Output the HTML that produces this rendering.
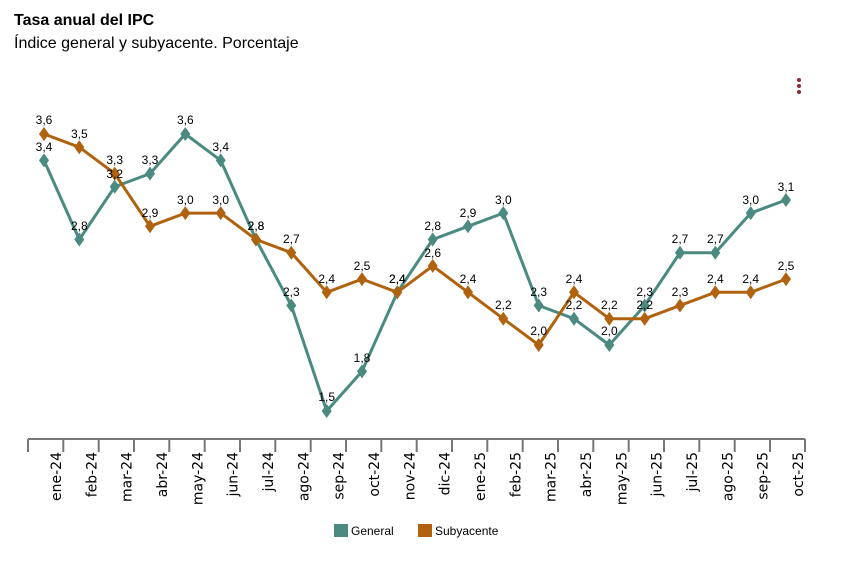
<!DOCTYPE html>
<html><head><meta charset="utf-8"><style>
body{margin:0;background:#fff;width:850px;height:557px;overflow:hidden;font-family:"Liberation Sans",Arial,sans-serif}
</style></head><body>
<svg width="850" height="557" viewBox="0 0 850 557" xmlns="http://www.w3.org/2000/svg">
<text x="14" y="25" font-family="Liberation Sans" font-weight="bold" font-size="16" fill="#000">Tasa anual del IPC</text>
<text x="14" y="48" font-family="Liberation Sans" font-size="16" fill="#000">Índice general y subyacente. Porcentaje</text>
<g fill="#8a2a3a"><circle cx="799" cy="80" r="2"/><circle cx="799" cy="86" r="2"/><circle cx="799" cy="92" r="2"/></g>
<g stroke="#777" stroke-width="2" fill="none">
<path d="M28 439H805"/>
<path d="M28 439v13M63.3 439v13M98.7 439v13M134 439v13M169.3 439v13M204.7 439v13M240 439v13M275.3 439v13M310.7 439v13M346 439v13M381.3 439v13M416.7 439v13M452 439v13M487.3 439v13M522.7 439v13M558 439v13M593.3 439v13M628.7 439v13M664 439v13M699.3 439v13M734.7 439v13M770 439v13M805 439v13"/>
</g>
<g font-family="DejaVu Sans" font-size="14" fill="#000" text-anchor="end">
<text transform="translate(61,452) rotate(-90)">ene-24</text>
<text transform="translate(96.3,452) rotate(-90)">feb-24</text>
<text transform="translate(131.7,452) rotate(-90)">mar-24</text>
<text transform="translate(167,452) rotate(-90)">abr-24</text>
<text transform="translate(202.3,452) rotate(-90)">may-24</text>
<text transform="translate(237.7,452) rotate(-90)">jun-24</text>
<text transform="translate(273,452) rotate(-90)">jul-24</text>
<text transform="translate(308.3,452) rotate(-90)">ago-24</text>
<text transform="translate(343.7,452) rotate(-90)">sep-24</text>
<text transform="translate(379,452) rotate(-90)">oct-24</text>
<text transform="translate(414.3,452) rotate(-90)">nov-24</text>
<text transform="translate(449.7,452) rotate(-90)">dic-24</text>
<text transform="translate(485,452) rotate(-90)">ene-25</text>
<text transform="translate(520.3,452) rotate(-90)">feb-25</text>
<text transform="translate(555.7,452) rotate(-90)">mar-25</text>
<text transform="translate(591,452) rotate(-90)">abr-25</text>
<text transform="translate(626.3,452) rotate(-90)">may-25</text>
<text transform="translate(661.7,452) rotate(-90)">jun-25</text>
<text transform="translate(697,452) rotate(-90)">jul-25</text>
<text transform="translate(732.3,452) rotate(-90)">ago-25</text>
<text transform="translate(767.7,452) rotate(-90)">sep-25</text>
<text transform="translate(803,452) rotate(-90)">oct-25</text>
</g>
<defs><path id="d" d="M0 -7L5 0L0 7L-5 0Z"/></defs>
<!-- General -->
<polyline fill="none" stroke="#4a8a80" stroke-width="3" stroke-linejoin="round" points="44,160.4 79.3,239.5 114.7,186.8 150,173.6 185.3,134 220.7,160.4 256,239.5 291.3,305.5 326.7,411 362,371.4 397.3,292.3 432.7,239.5 468,226.3 503.3,213.1 538.7,305.5 574,318.7 609.3,345 644.7,305.5 680,252.7 715.3,252.7 750.7,213.1 786,200"/>
<g fill="#4a8a80">
<use href="#d" x="44" y="160.4"/><use href="#d" x="79.3" y="239.5"/><use href="#d" x="114.7" y="186.8"/><use href="#d" x="150" y="173.6"/><use href="#d" x="185.3" y="134"/><use href="#d" x="220.7" y="160.4"/><use href="#d" x="256" y="239.5"/><use href="#d" x="291.3" y="305.5"/><use href="#d" x="326.7" y="411"/><use href="#d" x="362" y="371.4"/><use href="#d" x="397.3" y="292.3"/><use href="#d" x="432.7" y="239.5"/><use href="#d" x="468" y="226.3"/><use href="#d" x="503.3" y="213.1"/><use href="#d" x="538.7" y="305.5"/><use href="#d" x="574" y="318.7"/><use href="#d" x="609.3" y="345"/><use href="#d" x="644.7" y="305.5"/><use href="#d" x="680" y="252.7"/><use href="#d" x="715.3" y="252.7"/><use href="#d" x="750.7" y="213.1"/><use href="#d" x="786" y="200"/>
</g>
<!-- Subyacente -->
<polyline fill="none" stroke="#b0620e" stroke-width="3" stroke-linejoin="round" points="44,134 79.3,147.2 114.7,173.6 150,226.3 185.3,213.1 220.7,213.1 256,239.5 291.3,252.7 326.7,292.3 362,279.1 397.3,292.3 432.7,265.9 468,292.3 503.3,318.7 538.7,345 574,292.3 609.3,318.7 644.7,318.7 680,305.5 715.3,292.3 750.7,292.3 786,279.1"/>
<g fill="#b0620e">
<use href="#d" x="44" y="134"/><use href="#d" x="79.3" y="147.2"/><use href="#d" x="114.7" y="173.6"/><use href="#d" x="150" y="226.3"/><use href="#d" x="185.3" y="213.1"/><use href="#d" x="220.7" y="213.1"/><use href="#d" x="256" y="239.5"/><use href="#d" x="291.3" y="252.7"/><use href="#d" x="326.7" y="292.3"/><use href="#d" x="362" y="279.1"/><use href="#d" x="397.3" y="292.3"/><use href="#d" x="432.7" y="265.9"/><use href="#d" x="468" y="292.3"/><use href="#d" x="503.3" y="318.7"/><use href="#d" x="538.7" y="345"/><use href="#d" x="574" y="292.3"/><use href="#d" x="609.3" y="318.7"/><use href="#d" x="644.7" y="318.7"/><use href="#d" x="680" y="305.5"/><use href="#d" x="715.3" y="292.3"/><use href="#d" x="750.7" y="292.3"/><use href="#d" x="786" y="279.1"/>
</g>
<g font-family="Liberation Sans" font-size="12" fill="#000" text-anchor="middle">
<text x="44" y="151">3,4</text><text x="79.3" y="230">2,8</text><text x="114.7" y="178">3,2</text><text x="150" y="164">3,3</text><text x="185.3" y="124">3,6</text><text x="220.7" y="151">3,4</text><text x="256" y="230">2,8</text><text x="291.3" y="296">2,3</text><text x="326.7" y="401">1,5</text><text x="362" y="362">1,8</text><text x="397.3" y="283">2,4</text><text x="432.7" y="230">2,8</text><text x="468" y="217">2,9</text><text x="503.3" y="204">3,0</text><text x="538.7" y="296">2,3</text><text x="574" y="309">2,2</text><text x="609.3" y="335">2,0</text><text x="644.7" y="296">2,3</text><text x="680" y="243">2,7</text><text x="715.3" y="243">2,7</text><text x="750.7" y="204">3,0</text><text x="786" y="191">3,1</text>
<text x="44" y="124">3,6</text><text x="79.3" y="138">3,5</text><text x="114.7" y="164">3,3</text><text x="150" y="217">2,9</text><text x="185.3" y="204">3,0</text><text x="220.7" y="204">3,0</text><text x="256" y="230">2,8</text><text x="291.3" y="243">2,7</text><text x="326.7" y="283">2,4</text><text x="362" y="270">2,5</text><text x="397.3" y="283">2,4</text><text x="432.7" y="257">2,6</text><text x="468" y="283">2,4</text><text x="503.3" y="309">2,2</text><text x="538.7" y="335">2,0</text><text x="574" y="283">2,4</text><text x="609.3" y="309">2,2</text><text x="644.7" y="309">2,2</text><text x="680" y="296">2,3</text><text x="715.3" y="283">2,4</text><text x="750.7" y="283">2,4</text><text x="786" y="270">2,5</text>
</g>
<rect x="334" y="524" width="14" height="13" fill="#4a8a80"/>
<text x="351" y="535" font-family="Liberation Sans" font-size="12" fill="#000">General</text>
<rect x="418" y="524" width="14" height="13" fill="#b0620e"/>
<text x="435" y="535" font-family="Liberation Sans" font-size="12" fill="#000">Subyacente</text>
</svg>
</body></html>
